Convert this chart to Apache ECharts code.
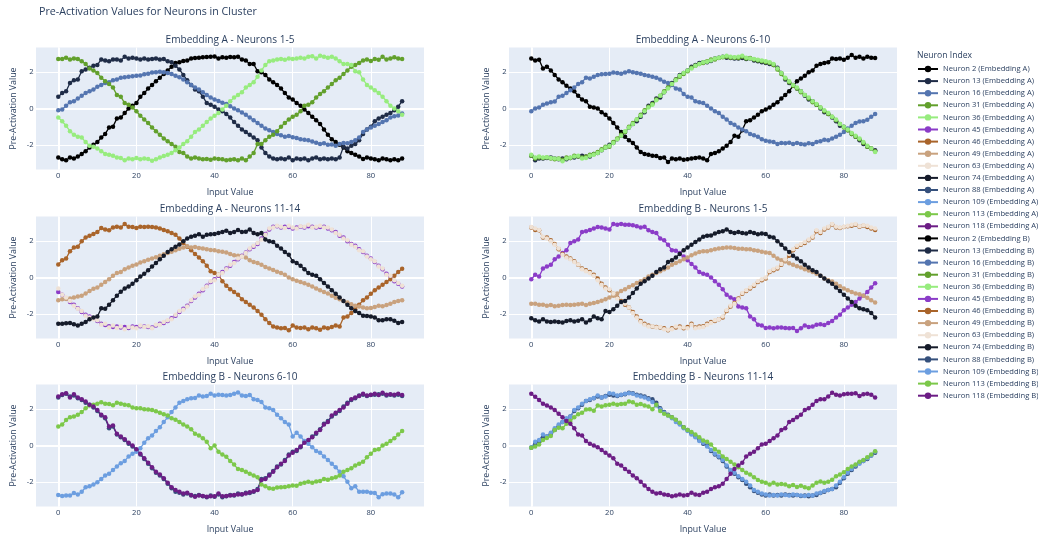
<!DOCTYPE html>
<html>
<head>
<meta charset="utf-8">
<title>Pre-Activation Values for Neurons in Cluster</title>
<script src="https://cdn.jsdelivr.net/npm/echarts@6.0.0/dist/echarts.min.js"></script>
<style>
  html, body { margin: 0; padding: 0; background: #ffffff; }
  #chart { width: 1038px; height: 537px; }
</style>
</head>
<body>
<div id="chart"></div>
<script>
// ---- data -------------------------------------------------------------
const neuronIds = [2, 13, 16, 31, 36, 45, 46, 49, 63, 74, 88, 109, 113, 118];
const inputValues = Array.from({ length: 89 }, (_, i) => i);
const xTickValues = [0, 20, 40, 60, 80];
const yTickValues = [-2, 0, 2];
const panelTitles = [
  'Embedding A - Neurons 1-5', 'Embedding A - Neurons 6-10',
  'Embedding A - Neurons 11-14', 'Embedding B - Neurons 1-5',
  'Embedding B - Neurons 6-10', 'Embedding B - Neurons 11-14'
];

// Embedding A pre-activations, one array per neuron (input 0..88)
const embA_n2 = [
  -2.7,-2.8,-2.85,-2.7,-2.75,-2.65,-2.5,-2.35,-2.15,-2.0,
  -1.85,-1.6,-1.4,-1.05,-1.0,-0.55,-0.5,-0.25,0.0,0.15,
  0.3,0.65,0.85,1.1,1.3,1.5,1.7,1.9,2.1,2.3,
  2.5,2.55,2.62,2.65,2.75,2.78,2.8,2.82,2.83,2.85,
  2.87,2.75,2.82,2.8,2.83,2.82,2.85,2.7,2.65,2.45,
  2.45,2.05,2.0,1.85,1.6,1.45,1.3,1.1,0.85,0.6,
  0.5,0.3,0.15,-0.05,-0.25,-0.45,-0.65,-0.85,-1.15,-1.45,
  -1.7,-1.85,-2.0,-2.15,-2.35,-2.45,-2.55,-2.65,-2.78,-2.7,
  -2.75,-2.8,-2.85,-2.75,-2.8,-2.85,-2.8,-2.85,-2.75];
const embA_n13 = [
  0.65,0.85,0.95,1.4,1.55,1.6,2.05,2.15,2.25,2.35,
  2.4,2.7,2.65,2.6,2.7,2.7,2.65,2.85,2.75,2.8,
  2.75,2.7,2.75,2.7,2.72,2.75,2.7,2.72,2.6,2.55,
  2.35,2.15,1.85,1.55,1.3,1.05,0.95,0.65,0.3,0.2,
  0.1,-0.05,-0.15,-0.3,-0.5,-0.75,-0.95,-1.15,-1.3,-1.45,
  -1.6,-1.75,-2.15,-2.45,-2.65,-2.75,-2.8,-2.75,-2.8,-2.7,
  -2.85,-2.75,-2.8,-2.75,-2.85,-2.75,-2.7,-2.8,-2.75,-2.8,
  -2.75,-2.8,-2.7,-2.1,-2.2,-2.05,-1.95,-1.75,-1.4,-1.15,
  -1.0,-0.7,-0.55,-0.45,-0.35,-0.25,-0.1,0.1,0.4];
const embA_n16 = [
  -0.1,-0.05,0.15,0.35,0.4,0.55,0.7,0.85,0.95,1.05,
  1.2,1.3,1.4,1.45,1.55,1.6,1.7,1.72,1.75,1.78,
  1.8,1.82,1.88,1.92,1.98,2.0,2.02,2.0,1.95,1.9,
  1.8,1.72,1.6,1.45,1.3,1.15,1.05,0.9,0.75,0.6,
  0.5,0.42,0.32,0.25,0.12,0.0,-0.1,-0.22,-0.35,-0.5,
  -0.65,-0.8,-0.95,-1.1,-1.2,-1.3,-1.4,-1.48,-1.55,-1.52,
  -1.58,-1.62,-1.7,-1.72,-1.75,-1.82,-1.88,-1.95,-1.92,-2.0,
  -1.98,-2.05,-1.95,-1.9,-1.92,-1.85,-1.75,-1.6,-1.3,-1.15,
  -1.05,-0.95,-0.85,-0.75,-0.65,-0.5,-0.42,-0.38,-0.28];
const embA_n31 = [
  2.72,2.72,2.8,2.7,2.75,2.72,2.6,2.45,2.2,2.1,
  1.95,1.7,1.5,1.35,1.15,0.75,0.65,0.3,0.2,0.05,
  -0.15,-0.4,-0.6,-0.8,-1.05,-1.25,-1.45,-1.65,-1.8,-1.95,
  -2.1,-2.4,-2.45,-2.65,-2.75,-2.7,-2.75,-2.8,-2.78,-2.82,
  -2.75,-2.78,-2.8,-2.85,-2.82,-2.8,-2.85,-2.75,-2.85,-2.65,
  -2.45,-1.95,-1.95,-1.75,-1.55,-1.45,-1.25,-1.0,-0.8,-0.6,
  -0.45,-0.35,-0.15,0.15,0.2,0.35,0.6,0.8,0.95,1.15,
  1.35,1.55,1.7,1.9,2.1,2.3,2.4,2.5,2.65,2.7,
  2.62,2.72,2.68,2.85,2.7,2.75,2.82,2.75,2.72];
const embA_n36 = [
  -0.5,-0.7,-0.95,-1.25,-1.45,-1.55,-1.6,-1.85,-2.05,-2.1,
  -2.2,-2.35,-2.5,-2.55,-2.6,-2.7,-2.72,-2.85,-2.75,-2.8,
  -2.72,-2.8,-2.75,-2.78,-2.88,-2.8,-2.7,-2.62,-2.55,-2.45,
  -2.3,-2.15,-1.95,-1.8,-1.55,-1.3,-1.15,-0.95,-0.75,-0.55,
  -0.4,-0.25,-0.05,0.15,0.4,0.6,0.75,0.9,1.15,1.3,
  1.45,1.75,2.1,2.4,2.6,2.65,2.7,2.72,2.68,2.75,
  2.72,2.75,2.8,2.75,2.85,2.88,2.75,2.9,2.85,2.8,
  2.85,2.75,2.6,2.45,2.45,2.4,2.05,2.0,1.6,1.3,
  1.15,1.0,0.85,0.65,0.4,0.15,0.0,-0.15,-0.35];
const embA_n45 = [
  -0.8,-0.95,-1.15,-1.35,-1.5,-1.7,-1.9,-2.05,-2.15,-2.25,
  -2.4,-2.55,-2.62,-2.68,-2.72,-2.7,-2.75,-2.72,-2.78,-2.7,
  -2.72,-2.68,-2.7,-2.72,-2.75,-2.65,-2.55,-2.5,-2.4,-2.25,
  -2.1,-1.9,-1.72,-1.55,-1.3,-1.1,-0.9,-0.7,-0.45,-0.25,
  -0.1,0.1,0.3,0.5,0.65,0.85,1.0,1.2,1.38,1.55,
  1.7,1.85,2.15,2.4,2.65,2.8,2.82,2.75,2.8,2.78,
  2.7,2.75,2.8,2.75,2.82,2.8,2.75,2.78,2.8,2.7,
  2.6,2.5,2.3,2.2,2.0,1.85,1.75,1.55,1.4,1.2,
  1.05,0.85,0.65,0.45,0.2,0.05,-0.2,-0.35,-0.5];
const embA_n46 = [
  0.72,0.95,1.05,1.45,1.65,1.7,2.0,2.2,2.3,2.4,
  2.5,2.72,2.65,2.6,2.75,2.8,2.75,2.95,2.8,2.78,
  2.72,2.8,2.78,2.8,2.78,2.75,2.7,2.62,2.55,2.45,
  2.35,2.15,1.9,1.7,1.5,1.3,1.1,0.9,0.65,0.35,
  0.25,0.15,-0.2,-0.45,-0.65,-0.8,-0.95,-1.2,-1.35,-1.5,
  -1.65,-1.85,-2.05,-2.3,-2.5,-2.7,-2.75,-2.8,-2.78,-2.9,
  -2.65,-2.75,-2.78,-2.75,-2.85,-2.75,-2.8,-2.88,-2.75,-2.8,
  -2.72,-2.65,-2.7,-2.2,-2.15,-1.95,-1.75,-1.5,-1.25,-1.1,
  -0.9,-0.7,-0.55,-0.4,-0.25,-0.1,0.1,0.3,0.48];
const embA_n49 = [
  -1.25,-1.2,-1.18,-1.15,-1.1,-1.05,-1.0,-0.88,-0.75,-0.62,
  -0.55,-0.4,-0.25,-0.1,0.1,0.25,0.3,0.45,0.55,0.65,
  0.72,0.82,0.9,0.98,1.05,1.12,1.2,1.28,1.35,1.42,
  1.5,1.58,1.65,1.72,1.65,1.68,1.62,1.6,1.55,1.52,
  1.5,1.45,1.42,1.38,1.3,1.22,1.2,1.15,1.1,0.95,
  0.85,0.8,0.7,0.58,0.5,0.42,0.32,0.25,0.15,0.0,
  -0.1,-0.18,-0.25,-0.32,-0.4,-0.5,-0.6,-0.7,-0.8,-0.88,
  -1.0,-1.12,-1.2,-1.3,-1.38,-1.48,-1.55,-1.6,-1.65,-1.7,
  -1.68,-1.62,-1.55,-1.58,-1.52,-1.45,-1.35,-1.3,-1.25];
const embA_n63 = [
  -0.6,-0.95,-1.1,-1.3,-1.55,-1.72,-1.85,-2.1,-2.2,-2.3,
  -2.35,-2.6,-2.55,-2.75,-2.65,-2.78,-2.7,-2.85,-2.72,-2.75,
  -2.8,-2.65,-2.72,-2.68,-2.8,-2.6,-2.6,-2.45,-2.35,-2.3,
  -2.05,-1.85,-1.78,-1.6,-1.25,-1.05,-0.95,-0.65,-0.5,-0.2,
  -0.15,0.15,0.25,0.45,0.7,0.8,1.05,1.15,1.35,1.6,
  1.75,1.9,2.1,2.35,2.7,2.75,2.85,2.8,2.72,2.85,
  2.75,2.7,2.82,2.8,2.9,2.75,2.8,2.85,2.75,2.75,
  2.65,2.45,2.35,2.15,2.05,1.8,1.7,1.5,1.45,1.15,
  1.0,0.9,0.6,0.5,0.15,0.1,-0.15,-0.3,-0.45];
const embA_n74 = [
  -2.55,-2.55,-2.52,-2.5,-2.58,-2.65,-2.55,-2.45,-2.3,-2.2,
  -2.15,-1.7,-1.72,-1.5,-1.25,-1.0,-0.78,-0.6,-0.5,-0.35,
  -0.15,0.05,0.2,0.4,0.6,0.8,1.0,1.2,1.4,1.55,
  1.7,1.82,2.0,2.15,2.25,2.3,2.38,2.25,2.35,2.38,
  2.4,2.45,2.5,2.58,2.45,2.5,2.62,2.5,2.52,2.65,
  2.45,2.38,2.45,2.1,2.0,1.95,1.75,1.6,1.4,1.25,
  0.9,0.8,0.65,0.45,0.25,0.15,0.1,-0.1,-0.3,-0.5,
  -0.7,-0.9,-1.1,-1.3,-1.5,-1.7,-1.85,-1.95,-2.1,-2.12,
  -2.15,-2.2,-2.35,-2.35,-2.3,-2.3,-2.38,-2.5,-2.45];
const embA_n88 = [
  2.65,2.78,2.85,2.7,2.75,2.6,2.5,2.35,2.25,2.1,
  1.9,1.65,1.5,0.95,1.05,0.6,0.45,0.3,0.1,-0.05,
  -0.25,-0.5,-0.75,-1.0,-1.25,-1.5,-1.65,-1.85,-2.1,-2.35,
  -2.55,-2.6,-2.7,-2.65,-2.75,-2.78,-2.72,-2.8,-2.85,-2.75,
  -2.82,-2.7,-2.85,-2.8,-2.72,-2.75,-2.65,-2.7,-2.6,-2.62,
  -2.55,-2.4,-1.85,-1.8,-1.6,-1.4,-1.15,-1.05,-0.8,-0.5,
  -0.35,-0.3,-0.1,0.2,0.25,0.5,0.65,0.9,1.2,1.35,
  1.6,1.75,1.9,2.15,2.35,2.5,2.6,2.75,2.8,2.72,
  2.78,2.8,2.82,2.85,2.75,2.8,2.75,2.8,2.72];
const embA_n109 = [
  -2.72,-2.78,-2.75,-2.75,-2.62,-2.7,-2.55,-2.3,-2.25,-2.15,
  -2.02,-1.85,-1.65,-1.55,-1.35,-1.15,-0.98,-0.85,-0.6,-0.45,
  -0.35,-0.15,0.15,0.4,0.55,0.8,1.0,1.3,1.55,1.85,
  2.1,2.35,2.45,2.55,2.6,2.62,2.75,2.7,2.72,2.85,
  2.75,2.8,2.78,2.75,2.78,2.85,2.92,2.75,2.72,2.78,
  2.55,2.5,2.4,2.1,2.05,1.95,1.7,1.5,1.3,1.15,
  0.5,0.7,0.5,0.25,0.1,-0.1,-0.3,-0.4,-0.6,-0.8,
  -1.0,-1.2,-1.45,-1.7,-2.0,-2.35,-2.25,-2.55,-2.55,-2.55,
  -2.6,-2.62,-2.85,-2.68,-2.65,-2.65,-2.7,-2.85,-2.58];
const embA_n113 = [
  1.05,1.15,1.4,1.55,1.6,1.7,1.85,2.05,2.2,2.25,
  2.3,2.38,2.3,2.28,2.22,2.35,2.3,2.25,2.22,2.1,
  2.05,2.05,2.0,1.98,1.95,1.88,1.8,1.72,1.65,1.5,
  1.42,1.3,1.15,1.05,0.9,0.65,0.55,0.4,0.2,-0.15,
  0.0,-0.35,-0.5,-0.62,-0.85,-1.05,-1.3,-1.35,-1.45,-1.55,
  -1.65,-1.75,-2.15,-2.25,-2.35,-2.38,-2.32,-2.3,-2.28,-2.25,
  -2.2,-2.22,-2.1,-2.05,-2.0,-2.05,-1.98,-1.95,-1.85,-1.88,
  -1.8,-1.75,-1.65,-1.45,-1.35,-1.25,-1.1,-1.0,-0.9,-0.65,
  -0.45,-0.25,-0.2,0.0,0.1,0.25,0.4,0.6,0.8];
const embA_n118 = [
  2.7,2.82,2.88,2.65,2.82,2.65,2.55,2.42,2.25,2.15,
  1.95,1.7,1.55,1.05,1.1,0.65,0.5,0.35,0.15,0.0,
  -0.2,-0.45,-0.7,-0.95,-1.2,-1.45,-1.6,-1.8,-2.05,-2.3,
  -2.45,-2.55,-2.65,-2.6,-2.72,-2.82,-2.75,-2.78,-2.82,-2.8,
  -2.8,-2.65,-2.8,-2.78,-2.75,-2.72,-2.7,-2.68,-2.65,-2.58,
  -2.52,-2.45,-1.9,-1.85,-1.65,-1.45,-1.2,-1.0,-0.85,-0.55,
  -0.4,-0.25,-0.05,0.15,0.3,0.45,0.7,0.85,1.15,1.3,
  1.65,1.8,1.95,2.1,2.3,2.55,2.65,2.72,2.85,2.75,
  2.8,2.85,2.78,2.9,2.8,2.82,2.8,2.85,2.78];

// Embedding B pre-activations
const embB_n2 = [
  2.75,2.65,2.68,2.2,2.3,2.1,1.85,1.6,1.45,1.25,
  1.1,0.95,0.7,0.5,0.4,0.1,0.05,0.0,-0.2,-0.35,
  -0.55,-0.8,-1.05,-1.3,-1.55,-1.75,-1.9,-2.15,-2.4,-2.5,
  -2.55,-2.6,-2.62,-2.72,-2.7,-2.95,-2.75,-2.8,-2.75,-2.82,
  -2.8,-2.75,-2.72,-2.7,-2.75,-2.85,-2.5,-2.45,-2.35,-2.2,
  -2.05,-1.85,-1.5,-1.55,-1.2,-0.7,-0.65,-0.5,-0.35,-0.15,
  -0.05,0.05,0.2,0.35,0.55,0.75,0.95,1.25,1.5,1.65,
  1.8,2.0,2.1,2.35,2.45,2.5,2.55,2.75,2.72,2.75,
  2.68,2.8,2.95,2.8,2.85,2.75,2.85,2.8,2.78];
const embB_n13 = [
  -2.6,-2.85,-2.75,-2.75,-2.72,-2.7,-2.75,-2.8,-2.75,-2.8,
  -2.72,-2.7,-2.65,-2.6,-2.65,-2.65,-2.5,-2.45,-2.3,-2.15,
  -2.0,-1.9,-1.7,-1.5,-1.3,-1.05,-0.85,-0.7,-0.45,-0.2,
  0.15,0.3,0.55,0.6,0.9,1.15,1.4,1.6,1.85,1.95,
  2.1,2.3,2.4,2.5,2.55,2.55,2.62,2.75,2.8,2.85,
  2.8,2.78,2.75,2.75,2.78,2.72,2.75,2.65,2.6,2.55,
  2.5,2.45,2.4,2.25,1.95,1.6,1.4,1.3,1.1,0.95,
  0.7,0.5,0.4,0.2,0.0,-0.2,-0.3,-0.5,-0.7,-0.95,
  -1.0,-1.2,-1.4,-1.55,-1.75,-1.95,-2.1,-2.2,-2.3];
const embB_n16 = [
  -0.15,0.0,0.05,0.2,0.28,0.35,0.38,0.65,0.7,0.85,
  1.0,1.15,1.35,1.45,1.7,1.65,1.75,1.85,1.88,1.9,
  1.92,1.98,1.95,1.92,1.98,2.05,2.0,1.95,1.92,1.85,
  1.8,1.75,1.7,1.6,1.48,1.4,1.3,1.1,1.05,0.8,
  0.65,0.6,0.4,0.35,0.3,0.15,0.0,-0.15,-0.25,-0.45,
  -0.6,-0.8,-0.9,-1.05,-1.15,-1.25,-1.4,-1.48,-1.55,-1.7,
  -1.78,-1.82,-1.85,-1.95,-1.9,-1.92,-1.88,-1.95,-1.9,-1.95,
  -1.98,-1.92,-1.95,-1.85,-1.8,-1.72,-1.75,-1.65,-1.55,-1.45,
  -1.3,-1.1,-0.95,-0.8,-0.72,-0.7,-0.62,-0.45,-0.3];
const embB_n31 = [
  -2.6,-2.75,-2.7,-2.72,-2.7,-2.75,-2.8,-2.75,-2.82,-2.7,
  -2.72,-2.6,-2.65,-2.7,-2.65,-2.55,-2.5,-2.4,-2.25,-2.1,
  -2.1,-1.85,-1.65,-1.45,-1.3,-1.0,-0.8,-0.6,-0.35,-0.1,
  0.1,0.25,0.5,0.7,0.95,1.15,1.35,1.6,1.75,1.9,
  2.05,2.25,2.35,2.45,2.5,2.6,2.7,2.7,2.78,2.82,
  2.85,2.8,2.8,2.78,2.85,2.75,2.78,2.7,2.65,2.6,
  2.55,2.5,2.4,2.15,1.9,1.65,1.45,1.25,1.1,0.9,
  0.75,0.55,0.35,0.2,0.05,-0.15,-0.3,-0.45,-0.65,-0.85,
  -1.05,-1.2,-1.4,-1.55,-1.7,-1.9,-2.1,-2.2,-2.35];
const embB_n36 = [
  -2.55,-2.7,-2.65,-2.7,-2.68,-2.72,-2.75,-2.78,-2.9,-2.75,
  -2.7,-2.65,-2.6,-2.75,-2.72,-2.6,-2.55,-2.45,-2.3,-2.15,
  -2.05,-1.9,-1.7,-1.5,-1.25,-1.05,-0.85,-0.6,-0.4,-0.15,
  0.05,0.2,0.45,0.7,0.9,1.1,1.35,1.55,1.8,1.95,
  2.1,2.2,2.35,2.45,2.55,2.58,2.65,2.75,2.8,2.85,
  2.9,2.85,2.82,2.85,2.9,2.8,2.75,2.72,2.68,2.65,
  2.6,2.55,2.45,2.2,1.95,1.7,1.5,1.3,1.15,0.95,
  0.75,0.6,0.4,0.25,0.05,-0.1,-0.25,-0.45,-0.6,-0.85,
  -1.0,-1.15,-1.35,-1.5,-1.65,-1.85,-2.05,-2.2,-2.4];
const embB_n45 = [
  -0.1,0.15,0.05,0.5,0.6,0.7,1.0,1.15,1.35,1.5,
  1.9,2.0,2.1,2.5,2.55,2.62,2.7,2.78,2.75,2.7,
  2.65,2.95,2.9,2.95,2.9,2.9,2.88,2.82,2.75,2.8,
  2.6,2.5,2.45,2.15,2.05,1.8,1.5,1.48,1.35,1.15,
  0.95,0.75,0.55,0.3,0.2,0.15,0.0,-0.2,-0.4,-0.65,
  -0.95,-1.1,-1.2,-1.6,-1.65,-1.7,-2.15,-2.3,-2.6,-2.65,
  -2.78,-2.75,-2.8,-2.75,-2.75,-2.78,-2.8,-2.78,-2.95,-2.8,
  -2.65,-2.72,-2.7,-2.6,-2.58,-2.62,-2.5,-2.4,-2.2,-2.05,
  -1.8,-1.65,-1.5,-1.35,-1.15,-1.0,-0.8,-0.55,-0.32];
const embB_n46 = [
  2.75,2.62,2.6,2.2,2.2,2.05,1.85,1.55,1.3,1.15,
  1.05,0.9,0.7,0.5,0.4,0.3,0.15,-0.05,-0.35,-0.55,
  -0.7,-0.9,-1.1,-1.3,-1.5,-1.65,-1.9,-2.15,-2.4,-2.55,
  -2.65,-2.7,-2.72,-2.75,-2.8,-2.9,-2.8,-2.75,-2.7,-2.8,
  -2.72,-2.55,-2.75,-2.7,-2.68,-2.55,-2.45,-2.4,-2.3,-2.2,
  -1.85,-1.6,-1.4,-1.15,-0.9,-0.75,-0.6,-0.45,-0.25,-0.15,
  -0.05,0.3,0.4,0.5,0.7,0.95,1.2,1.5,1.7,1.8,
  1.9,2.05,2.2,2.55,2.45,2.65,2.75,2.92,2.75,2.72,
  2.78,2.82,2.85,2.9,2.8,2.85,2.78,2.7,2.62];
const embB_n49 = [
  -1.45,-1.45,-1.5,-1.5,-1.55,-1.52,-1.58,-1.55,-1.52,-1.5,
  -1.52,-1.5,-1.48,-1.45,-1.52,-1.45,-1.4,-1.35,-1.28,-1.2,
  -1.1,-1.0,-0.88,-0.75,-0.65,-0.52,-0.42,-0.3,-0.2,-0.1,
  0.05,0.15,0.25,0.35,0.45,0.55,0.7,0.8,0.9,1.0,
  1.1,1.22,1.32,1.4,1.45,1.45,1.5,1.55,1.6,1.62,
  1.65,1.65,1.62,1.58,1.58,1.55,1.55,1.5,1.48,1.42,
  1.38,1.35,1.2,1.05,0.95,0.88,0.78,0.7,0.62,0.55,
  0.45,0.38,0.3,0.2,0.1,-0.05,-0.15,-0.22,-0.35,-0.48,
  -0.6,-0.7,-0.8,-0.88,-0.92,-1.0,-1.12,-1.25,-1.38];
const embB_n63 = [
  2.78,2.7,2.62,2.25,2.15,2.0,1.8,1.6,1.25,1.1,
  1.0,0.85,0.72,0.45,0.35,0.25,0.1,-0.15,-0.4,-0.6,
  -0.65,-0.88,-1.15,-1.35,-1.45,-1.65,-1.95,-2.2,-2.45,-2.6,
  -2.7,-2.68,-2.75,-2.72,-2.85,-2.88,-2.85,-2.7,-2.75,-2.75,
  -2.8,-2.6,-2.8,-2.75,-2.72,-2.6,-2.5,-2.35,-2.3,-2.15,
  -1.8,-1.55,-1.45,-1.2,-0.85,-0.7,-0.55,-0.4,-0.2,-0.1,
  0.0,0.35,0.45,0.55,0.75,1.0,1.3,1.55,1.75,1.85,
  1.95,2.1,2.25,2.6,2.5,2.7,2.8,2.95,2.8,2.75,
  2.8,2.85,2.9,2.95,2.82,2.88,2.85,2.75,2.7];
const embB_n74 = [
  -2.25,-2.35,-2.42,-2.3,-2.42,-2.45,-2.42,-2.45,-2.48,-2.4,
  -2.35,-2.42,-2.38,-2.3,-2.48,-2.35,-2.15,-2.25,-2.3,-1.85,
  -1.9,-1.75,-1.55,-1.35,-1.3,-1.1,-0.85,-0.6,-0.35,-0.2,
  -0.05,0.1,0.3,0.45,0.55,0.85,0.95,1.1,1.3,1.5,
  1.65,1.8,1.95,2.1,2.25,2.3,2.32,2.42,2.5,2.55,
  2.65,2.5,2.45,2.5,2.45,2.42,2.5,2.45,2.38,2.42,
  2.4,2.25,2.2,2.0,1.8,1.6,1.4,1.2,1.05,0.9,
  0.7,0.55,0.4,0.3,0.1,-0.05,-0.2,-0.35,-0.55,-0.75,
  -0.95,-1.15,-1.35,-1.55,-1.7,-1.75,-1.8,-1.95,-2.2];
const embB_n88 = [
  -0.12,0.1,0.25,0.45,0.5,0.65,0.85,1.05,1.3,1.45,
  1.6,1.9,2.05,2.25,2.45,2.5,2.6,2.7,2.65,2.72,
  2.8,2.75,2.72,2.78,2.82,2.9,2.88,2.8,2.75,2.7,
  2.6,2.55,2.35,2.05,1.85,1.7,1.55,1.4,1.2,1.0,
  0.85,0.65,0.5,0.3,0.1,0.0,-0.3,-0.5,-0.65,-0.85,
  -1.15,-1.4,-1.55,-1.75,-1.9,-2.1,-2.3,-2.5,-2.6,-2.7,
  -2.75,-2.7,-2.75,-2.72,-2.75,-2.7,-2.72,-2.75,-2.72,-2.78,
  -2.75,-2.8,-2.75,-2.72,-2.62,-2.55,-2.45,-2.4,-2.3,-2.05,
  -1.8,-1.55,-1.35,-1.15,-0.95,-0.85,-0.75,-0.55,-0.4];
const embB_n109 = [
  -0.1,0.2,0.3,0.6,0.5,0.7,0.95,1.15,1.3,1.5,
  1.6,1.95,2.1,2.3,2.45,2.55,2.62,2.75,2.65,2.7,
  2.88,2.85,2.75,2.8,2.85,2.88,2.85,2.75,2.7,2.65,
  2.55,2.4,2.2,2.0,1.8,1.65,1.5,1.3,1.15,0.95,
  0.8,0.6,0.45,0.25,0.15,-0.05,-0.25,-0.45,-0.6,-0.8,
  -1.1,-1.35,-1.5,-1.7,-1.85,-2.0,-2.2,-2.45,-2.55,-2.65,
  -2.7,-2.75,-2.72,-2.75,-2.7,-2.72,-2.75,-2.7,-2.72,-2.75,
  -2.78,-2.72,-2.75,-2.65,-2.6,-2.5,-2.45,-2.4,-2.2,-2.0,
  -1.75,-1.5,-1.3,-1.1,-1.0,-0.85,-0.7,-0.55,-0.35];
const embB_n113 = [
  -0.12,-0.05,0.05,0.3,0.42,0.52,0.85,0.98,0.95,1.2,
  1.35,1.55,1.72,1.8,1.98,2.0,1.92,2.2,2.15,2.22,
  2.25,2.3,2.25,2.28,2.3,2.42,2.38,2.25,2.28,2.2,
  2.15,2.0,2.25,1.9,1.75,1.65,1.55,1.42,1.25,1.0,
  0.85,0.75,0.6,0.45,0.28,0.2,0.05,-0.2,-0.35,-0.6,
  -0.75,-0.9,-1.05,-1.2,-1.35,-1.5,-1.6,-1.75,-1.9,-2.0,
  -2.05,-2.15,-2.05,-2.15,-2.12,-2.15,-2.25,-2.18,-2.28,-2.22,
  -2.3,-2.35,-2.2,-2.05,-1.98,-2.05,-2.0,-1.88,-1.7,-1.6,
  -1.48,-1.3,-1.15,-1.05,-0.9,-0.8,-0.65,-0.5,-0.32];
const embB_n118 = [
  2.85,2.68,2.5,2.3,2.2,2.1,1.95,1.75,1.55,1.35,
  1.2,0.95,0.6,0.55,0.25,0.1,0.0,-0.1,-0.25,-0.4,
  -0.55,-0.7,-1.0,-1.1,-1.3,-1.45,-1.65,-1.8,-2.0,-2.2,
  -2.4,-2.55,-2.65,-2.62,-2.7,-2.72,-2.8,-2.75,-2.7,-2.75,
  -2.72,-2.6,-2.7,-2.72,-2.6,-2.55,-2.4,-2.3,-2.25,-2.1,
  -1.85,-1.55,-1.3,-1.1,-0.95,-0.6,-0.45,-0.35,-0.15,0.05,
  0.1,0.25,0.4,0.55,0.85,0.95,1.3,1.4,1.55,1.7,
  1.95,2.05,2.25,2.45,2.55,2.55,2.7,2.9,2.8,2.75,
  2.82,2.85,2.85,2.88,2.72,2.82,2.85,2.8,2.65];

const embeddingA = [embA_n2, embA_n13, embA_n16, embA_n31, embA_n36, embA_n45, embA_n46,
  embA_n49, embA_n63, embA_n74, embA_n88, embA_n109, embA_n113, embA_n118];
const embeddingB = [embB_n2, embB_n13, embB_n16, embB_n31, embB_n36, embB_n45, embB_n46,
  embB_n49, embB_n63, embB_n74, embB_n88, embB_n109, embB_n113, embB_n118];

// ---- style / layout ---------------------------------------------------
const neuronColors = ['#000000', '#1f2c47', '#5475b0', '#62a02c', '#97ec7e', '#8b3cc8', '#a9642a',
  '#c9a27e', '#efe2d6', '#151b2a', '#35507c', '#6c9ee0', '#7cc84a', '#6c1d85'];
const FONT = 'Open Sans';
const INK = '#2a3f5f';
const PLOT_BG = '#E5ECF6';
const colLeft = [36, 509];
const rowTop = [47.5, 216.5, 384.5];
const plotW = 388, plotH = 122;
const xRange = [-5.7, 93.6];
const yRange = [-3.36, 3.36];

const grids = [], xAxes = [], yAxes = [], titles = [], series = [];

titles.push({
  text: 'Pre-Activation Values for Neurons in Cluster',
  left: 39, top: 6.5, padding: 0,
  textStyle: { fontFamily: FONT, fontSize: 10.7, fontWeight: 'normal', color: INK }
});

for (let p = 0; p < 6; p++) {
  const row = Math.floor(p / 2), col = p % 2;
  grids.push({
    left: colLeft[col], top: rowTop[row], width: plotW, height: plotH,
    show: true, backgroundColor: PLOT_BG, borderWidth: 0, containLabel: false
  });
  xAxes.push({
    type: 'value', gridIndex: p, min: xRange[0], max: xRange[1],
    name: 'Input Value', nameLocation: 'middle', nameGap: 18.5,
    nameTextStyle: { fontFamily: FONT, fontSize: 8.8, color: INK },
    axisLine: { show: false }, axisTick: { show: false, customValues: xTickValues },
    axisLabel: { customValues: xTickValues, margin: 2.5, fontFamily: FONT, fontSize: 7.6, color: INK },
    splitLine: { show: true, lineStyle: { color: '#ffffff', width: 1 } }
  });
  yAxes.push({
    type: 'value', gridIndex: p, min: yRange[0], max: yRange[1],
    name: 'Pre-Activation Value', nameLocation: 'middle', nameGap: 18,
    nameTextStyle: { fontFamily: FONT, fontSize: 8.8, color: INK },
    axisLine: { show: false }, axisTick: { show: false, customValues: yTickValues },
    axisLabel: { customValues: yTickValues, margin: 2.5, fontFamily: FONT, fontSize: 7.6, color: INK },
    splitLine: { show: true, lineStyle: { color: '#ffffff', width: 1 } }
  });
  titles.push({
    text: panelTitles[p],
    left: colLeft[col] + plotW / 2, top: rowTop[row] - 12, textAlign: 'center', padding: 0,
    textStyle: { fontFamily: FONT, fontSize: 10.1, fontWeight: 'normal', color: INK }
  });
}

titles.push({
  text: 'Neuron Index', left: 917, top: 51.5, padding: 0,
  textStyle: { fontFamily: FONT, fontSize: 8.6, fontWeight: 'normal', color: INK }
});

// white zero lines (both axes) drawn under the traces of a panel
const zeroLines = {
  silent: true, symbol: 'none', animation: false, z: 1, label: { show: false },
  lineStyle: { color: '#ffffff', width: 2, type: 'solid', opacity: 1 },
  emphasis: { disabled: true },
  data: [{ yAxis: 0 }, { xAxis: 0 }]
};

// Neurons 1-5, 6-10, 11-14 of each embedding go to one panel each
const legendNames = [];
const panelHasZero = {};
[['A', embeddingA, 0], ['B', embeddingB, 1]].forEach(([label, values, col]) => {
  values.forEach((vals, k) => {
    const group = k < 5 ? 0 : (k < 10 ? 1 : 2);
    const panel = group * 2 + col;
    const name = 'Neuron ' + neuronIds[k] + ' (Embedding ' + label + ')';
    legendNames.push(name);
    const s = {
      name, type: 'line', xAxisIndex: panel, yAxisIndex: panel, z: 2,
      data: vals.map((v, i) => [inputValues[i], v]),
      symbol: 'circle', symbolSize: 4.5, showSymbol: true,
      lineStyle: { width: 1.3, color: neuronColors[k] },
      itemStyle: { color: neuronColors[k], borderWidth: 0 },
      emphasis: { disabled: true }
    };
    if (!panelHasZero[panel]) { s.markLine = zeroLines; panelHasZero[panel] = true; }
    series.push(s);
  });
});

const chart = echarts.init(document.getElementById('chart'), null, { renderer: 'canvas' });
chart.setOption({
  animation: false,
  backgroundColor: '#ffffff',
  title: titles,
  grid: grids,
  xAxis: xAxes,
  yAxis: yAxes,
  legend: {
    data: legendNames, orient: 'vertical', left: 917, top: 65, padding: 0,
    itemWidth: 20, itemHeight: 8, itemGap: 4.1,
    textStyle: { fontFamily: FONT, fontSize: 7.6, color: INK, lineHeight: 8 },
    selectedMode: false
  },
  series
});
</script>
</body>
</html>
